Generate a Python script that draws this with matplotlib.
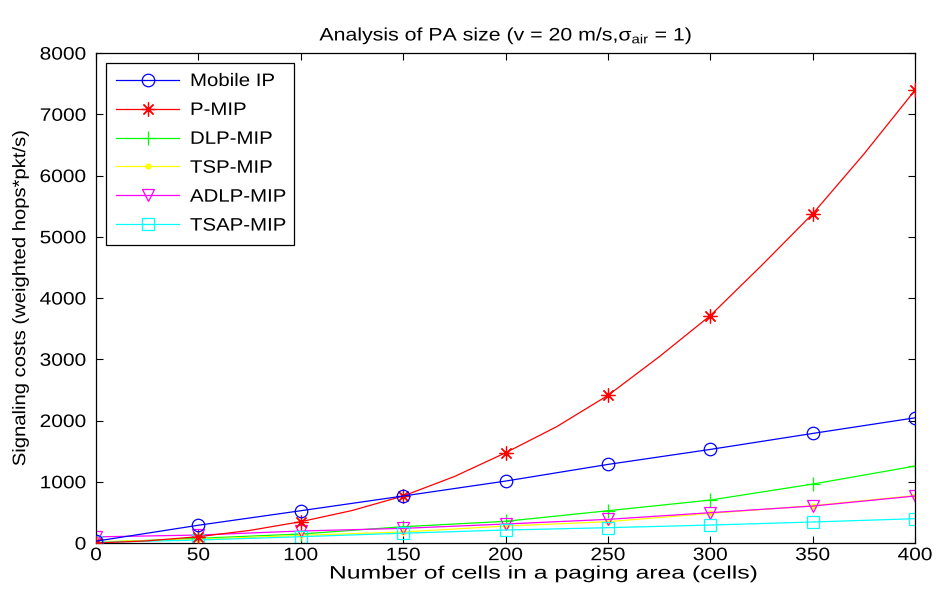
import matplotlib
matplotlib.use("Agg")
import matplotlib.pyplot as plt
from matplotlib.patheffects import AbstractPathEffect
from matplotlib.transforms import Affine2D

plt.rcParams["font.family"] = ["Liberation Sans", "DejaVu Sans"]
plt.rcParams["mathtext.fontset"] = "custom"
plt.rcParams["mathtext.rm"] = "Liberation Sans"
plt.rcParams["mathtext.it"] = "Liberation Sans"

# paging-area sizes (cells)
cells = [0, 50, 100, 150, 200, 250, 300, 350, 400]
cells_fine = [0, 25, 50, 75, 100, 125, 150, 175, 200, 225, 250, 275, 300, 325, 350, 375, 400]

mobile_ip = [30, 290, 527, 767, 1011, 1283, 1528, 1789, 2044]
p_mip = [0, 35, 103, 205, 348, 530, 767, 1085, 1473, 1900, 2410, 3040, 3713, 4530, 5375, 6350, 7394]
dlp_mip = [10, 76, 147, 266, 354, 527, 701, 962, 1256]
tsp_mip = [20, 60, 125, 180, 277, 348, 484, 610, 775]
adlp_mip = [100, 130, 196, 239, 310, 386, 495, 603, 767]
tsap_mip = [10, 49, 103, 160, 212, 250, 293, 343, 397]

FS = 13


class Wide(AbstractPathEffect):
    """Widen glyph paths along the text direction, about a chosen anchor."""

    def __init__(self, sx, anchor="left"):
        super().__init__()
        self.sx = sx
        self.anchor = anchor

    def draw_path(self, renderer, gc, tpath, affine, rgbFace=None):
        ext = tpath.get_extents()
        if self.anchor == "center":
            x0 = (ext.x0 + ext.x1) / 2
        elif self.anchor == "right":
            x0 = ext.x1
        else:
            x0 = 0
        widen = Affine2D().translate(-x0, 0).scale(self.sx, 1).translate(x0, 0)
        renderer.draw_path(gc, tpath, widen + affine, rgbFace)


fig = plt.figure(figsize=(9.36, 6.03), dpi=100)
ax = fig.add_axes([0.1026, 0.0995, 0.8750, 0.8125])

lw = 0.9
ax.plot(cells, mobile_ip, color="#0000ff", lw=lw, marker="o", ms=9, mfc="none", mew=0.9, label="Mobile IP", zorder=4)
ax.plot(cells_fine, p_mip, color="#ff0000", lw=lw, marker=(8, 2, 0), ms=10, mew=0.9, markevery=2, label="P-MIP", zorder=3)
ax.plot(cells, dlp_mip, color="#00ff00", lw=lw, marker="+", ms=10, mew=0.9, label="DLP-MIP")
ax.plot(cells, tsp_mip, color="#ffff00", lw=lw, marker=".", ms=7, label="TSP-MIP")
ax.plot(cells, adlp_mip, color="#ff00ff", lw=lw, marker="v", ms=9, mfc="none", mew=0.9, label="ADLP-MIP")
ax.plot(cells, tsap_mip, color="#00ffff", lw=lw, marker="s", ms=9, mfc="none", mew=0.9, label="TSAP-MIP")

ax.set_xlim(0, 400)
ax.set_ylim(0, 8000)
ax.set_xticks(range(0, 401, 50))
ax.set_yticks(range(0, 8001, 1000))
ax.tick_params(direction="in", top=True, right=True, length=5, width=0.8, labelsize=FS)
ax.tick_params(axis="y", pad=7)
ax.tick_params(axis="x", pad=3)
for sp in ax.spines.values():
    sp.set_linewidth(0.9)

for lab in ax.get_xticklabels():
    lab.set_path_effects([Wide(1.16, anchor="center")])
for lab in ax.get_yticklabels():
    lab.set_path_effects([Wide(1.16, anchor="right")])

xl = ax.set_xlabel("Number of cells in a paging area (cells)", fontsize=FS)
xl.set_path_effects([Wide(1.37, anchor="center")])
ax.xaxis.set_label_coords(0.5464, -0.046)
yl = ax.set_ylabel("Signaling costs (weighted hops*pkt/s)", fontsize=FS, labelpad=12)
yl.set_path_effects([Wide(1.12, anchor="center")])
tl = ax.set_title(r"Analysis of PA size (v = 20 m/s,$\sigma_{\rm air}$ = 1)", fontsize=FS, pad=9)
tl.set_path_effects([Wide(1.18, anchor="center")])

leg = ax.legend(loc="upper left", bbox_to_anchor=(0.0122, 0.0, 0.2295, 0.9796), mode="expand",
                borderaxespad=0, fontsize=FS, handlelength=3.5, handletextpad=0.6,
                fancybox=False, framealpha=1, edgecolor="black", borderpad=0.55, labelspacing=0.66)
leg.get_frame().set_linewidth(0.9)
for t in leg.get_texts():
    t.set_path_effects([Wide(1.13, anchor="left")])

fig.savefig("out.png", dpi=100)
